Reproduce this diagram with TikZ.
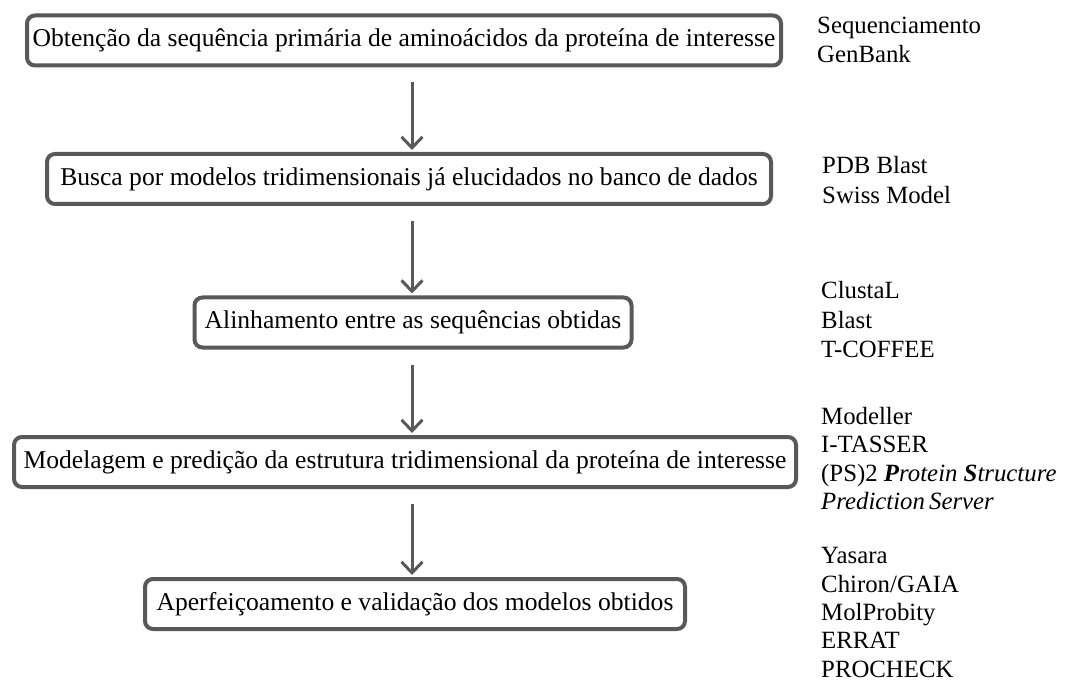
\documentclass[tikz,border=0pt]{standalone}
\usepackage{fontspec}
\setmainfont{Liberation Serif}
\usepackage{xcolor}
\usepackage{tikz}
\usetikzlibrary{arrows.meta,positioning}

\definecolor{cinza}{RGB}{89,89,89}

\begin{document}
\begin{tikzpicture}[x=1pt,y=-1pt]

\tikzset{etapa/.style={draw=cinza, line width=4pt, rounded corners=8pt,
   inner sep=0pt, minimum height=50pt, font=\fontsize{25.6}{30}\selectfont},
ferramentas/.style={anchor=west, align=left, inner sep=0pt,
   font=\fontsize{24.8}{29.5}\selectfont},
seta/.style={draw=cinza, line width=3pt, shorten <=15pt, shorten >=2pt,
   -{Straight Barb[length=11pt,width=21pt,line width=3pt]}}}

\useasboundingbox (0,0) rectangle (1067,684);

% etapas
\node[etapa, minimum width=754pt] (obt) at (404,40.5) {Obtenção da sequência primária de aminoácidos da proteína de interesse};
\node[etapa, minimum width=724pt] (busca) at (409,179) {Busca por modelos tridimensionais já elucidados no banco de dados};
\node[etapa, minimum width=437pt] (alin) at (413,322.5) {Alinhamento entre as sequências obtidas};
\node[etapa, minimum width=782pt] (model) at (405,462) {Modelagem e predição da estrutura tridimensional da proteína de interesse};
\node[etapa, minimum width=540pt] (aperf) at (415,604) {Aperfeiçoamento e validação dos modelos obtidos};

%setas
\coordinate (eixo) at (412,0);
\foreach \a/\b in {obt/busca, busca/alin, alin/model, model/aperf}
  \draw[seta] (\a.south -| eixo) -- (\b.north -| eixo);

% ferramentas
\node[ferramentas] (f1) at (817,40) {Sequenciamento\\GenBank};
\node[ferramentas] (f2) at (822,180) {PDB Blast\\Swiss Model};
\node[ferramentas] (f3) at (821,320) {ClustaL\\Blast\\T-COFFEE};
\node[ferramentas, font=\fontsize{24.8}{28.5}\selectfont] (f4) at (821,458.5) {Modeller\\I-TASSER\\(PS)2 \textbf{\textit{P}}\textit{rotein} \textbf{\textit{S}}\textit{tructure}\\\textit{Prediction\,Server}};
\node[ferramentas, font=\fontsize{24.8}{28.3}\selectfont] (f5) at (821,612.5) {Yasara\\Chiron/GAIA\\MolProbity\\ERRAT\\PROCHECK};

\end{tikzpicture}
\end{document}
